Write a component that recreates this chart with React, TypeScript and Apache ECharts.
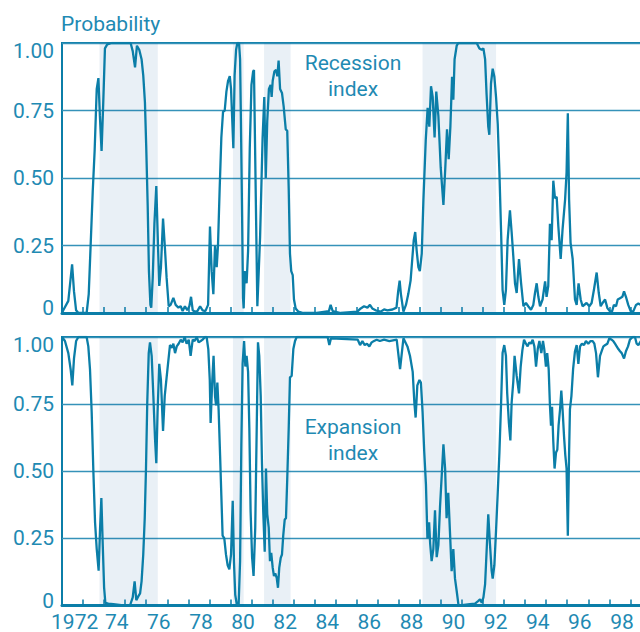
import React, { useEffect, useRef } from "react";
import * as echarts from "echarts";

// ---- Data (decimal year, probability) ----
const recessionIndex: [number, number][] = [
  [1972.0, 0.0], [1972.06, 0.01], [1972.3, 0.045], [1972.48, 0.18], [1972.57, 0.08], [1972.67, 0.01],
  [1972.78, 0.0], [1973.17, 0.0], [1973.27, 0.07], [1973.36, 0.25], [1973.46, 0.45], [1973.55, 0.6],
  [1973.65, 0.83], [1973.73, 0.87], [1973.8, 0.73], [1973.88, 0.6], [1973.96, 0.78], [1974.04, 0.98],
  [1974.15, 0.995], [1974.36, 1.0], [1975.26, 1.0], [1975.36, 0.97], [1975.47, 0.91], [1975.56, 0.99],
  [1975.67, 0.975], [1975.78, 0.94], [1975.86, 0.88], [1975.94, 0.78], [1976.0, 0.62], [1976.07, 0.4],
  [1976.13, 0.155], [1976.2, 0.03], [1976.24, 0.02], [1976.31, 0.13], [1976.39, 0.33], [1976.48, 0.47],
  [1976.56, 0.25], [1976.62, 0.1], [1976.7, 0.17], [1976.8, 0.35], [1976.89, 0.24], [1976.97, 0.13],
  [1977.07, 0.025], [1977.16, 0.03], [1977.29, 0.056], [1977.4, 0.03], [1977.53, 0.02], [1977.64, 0.025],
  [1977.73, 0.007], [1977.84, 0.025], [1977.95, 0.01], [1978.05, 0.025], [1978.13, 0.06], [1978.21, 0.01],
  [1978.32, 0.005], [1978.43, 0.007], [1978.56, 0.025], [1978.68, 0.01], [1978.81, 0.007], [1978.94, 0.03],
  [1979.03, 0.32], [1979.11, 0.155], [1979.19, 0.07], [1979.27, 0.25], [1979.35, 0.17], [1979.41, 0.25],
  [1979.49, 0.46], [1979.57, 0.65], [1979.65, 0.745], [1979.73, 0.75], [1979.81, 0.82], [1979.89, 0.86],
  [1979.97, 0.877], [1980.03, 0.83], [1980.09, 0.71], [1980.14, 0.61], [1980.2, 0.88], [1980.27, 0.975],
  [1980.33, 1.0], [1980.41, 1.0], [1980.46, 0.94], [1980.5, 0.71], [1980.55, 0.4], [1980.6, 0.056],
  [1980.63, 0.017], [1980.68, 0.155], [1980.73, 0.124], [1980.77, 0.11], [1980.84, 0.23], [1980.92, 0.61],
  [1981.0, 0.845], [1981.08, 0.895], [1981.12, 0.9], [1981.28, 0.025], [1981.41, 0.28], [1981.53, 0.65],
  [1981.61, 0.8], [1981.68, 0.5], [1981.75, 0.71], [1981.83, 0.83], [1981.91, 0.845], [1981.96, 0.8],
  [1982.01, 0.86], [1982.09, 0.895], [1982.17, 0.9], [1982.23, 0.877], [1982.29, 0.935], [1982.36, 0.83],
  [1982.45, 0.815], [1982.53, 0.765], [1982.63, 0.68], [1982.7, 0.675], [1982.77, 0.46], [1982.83, 0.22],
  [1982.89, 0.155], [1982.96, 0.14], [1983.02, 0.05], [1983.1, 0.017], [1983.23, 0.005], [1983.46, 0.0],
  [1984.1, 0.0], [1984.68, 0.007], [1984.76, 0.03], [1984.86, 0.007], [1985.24, 0.0], [1986.03, 0.005],
  [1986.19, 0.017], [1986.35, 0.025], [1986.51, 0.02], [1986.63, 0.03], [1986.74, 0.017], [1986.9, 0.01],
  [1987.14, 0.005], [1987.3, 0.013], [1987.46, 0.01], [1987.7, 0.013], [1987.89, 0.02], [1987.97, 0.08],
  [1988.04, 0.12], [1988.1, 0.07], [1988.22, 0.005], [1988.34, 0.03], [1988.45, 0.07], [1988.56, 0.12],
  [1988.64, 0.2], [1988.71, 0.27], [1988.78, 0.3], [1988.85, 0.23], [1988.93, 0.17], [1989.0, 0.155],
  [1989.09, 0.22], [1989.17, 0.42], [1989.28, 0.64], [1989.37, 0.76], [1989.45, 0.69], [1989.53, 0.84],
  [1989.61, 0.8], [1989.7, 0.65], [1989.78, 0.82], [1989.88, 0.73], [1989.99, 0.54], [1990.12, 0.4],
  [1990.21, 0.54], [1990.29, 0.68], [1990.37, 0.57], [1990.45, 0.69], [1990.53, 0.875], [1990.59, 0.79],
  [1990.65, 0.94], [1990.75, 0.99], [1990.83, 1.0], [1991.7, 1.0], [1991.83, 0.98], [1991.94, 0.975],
  [1992.02, 0.98], [1992.1, 0.94], [1992.17, 0.81], [1992.25, 0.69], [1992.3, 0.66], [1992.38, 0.85],
  [1992.46, 0.905], [1992.54, 0.875], [1992.62, 0.8], [1992.7, 0.7], [1992.78, 0.52], [1992.86, 0.3],
  [1992.93, 0.086], [1993.01, 0.03], [1993.09, 0.086], [1993.17, 0.27], [1993.28, 0.38], [1993.36, 0.3],
  [1993.44, 0.21], [1993.52, 0.11], [1993.6, 0.074], [1993.71, 0.2], [1993.81, 0.11], [1993.92, 0.025],
  [1994.04, 0.037], [1994.15, 0.025], [1994.28, 0.012], [1994.39, 0.03], [1994.47, 0.074], [1994.55, 0.11],
  [1994.63, 0.06], [1994.71, 0.025], [1994.83, 0.05], [1994.95, 0.117], [1995.02, 0.06], [1995.1, 0.1],
  [1995.18, 0.33], [1995.26, 0.27], [1995.34, 0.49], [1995.42, 0.425], [1995.5, 0.43], [1995.58, 0.32],
  [1995.69, 0.2], [1995.78, 0.31], [1995.9, 0.42], [1995.97, 0.52], [1996.03, 0.74], [1996.09, 0.42],
  [1996.16, 0.26], [1996.26, 0.2], [1996.37, 0.05], [1996.45, 0.03], [1996.54, 0.11], [1996.64, 0.05],
  [1996.73, 0.025], [1996.92, 0.037], [1997.05, 0.025], [1997.16, 0.037], [1997.27, 0.086], [1997.4, 0.15],
  [1997.5, 0.074], [1997.59, 0.025], [1997.68, 0.037], [1997.8, 0.05], [1997.91, 0.018], [1998.03, 0.006],
  [1998.13, 0.006], [1998.22, 0.03], [1998.32, 0.025], [1998.4, 0.05], [1998.51, 0.055], [1998.62, 0.06],
  [1998.7, 0.08], [1998.79, 0.06], [1998.9, 0.03], [1999.02, 0.006], [1999.14, 0.006], [1999.27, 0.03],
  [1999.38, 0.035], [1999.5, 0.03],
];

const expansionIndex: [number, number][] = [
  [1972.0, 1.0], [1972.14, 0.985], [1972.3, 0.94], [1972.41, 0.88], [1972.49, 0.82], [1972.57, 0.92],
  [1972.67, 0.985], [1972.78, 1.0], [1973.17, 1.0], [1973.25, 0.965], [1973.33, 0.88], [1973.41, 0.72],
  [1973.49, 0.5], [1973.57, 0.31], [1973.65, 0.21], [1973.74, 0.13], [1973.81, 0.29], [1973.87, 0.4],
  [1973.93, 0.24], [1974.0, 0.067], [1974.06, 0.01], [1974.2, 0.007], [1974.44, 0.005], [1974.91, 0.0],
  [1975.23, 0.0], [1975.36, 0.03], [1975.45, 0.09], [1975.53, 0.02], [1975.63, 0.035], [1975.71, 0.045],
  [1975.78, 0.09], [1975.86, 0.19], [1975.93, 0.325], [1975.99, 0.51], [1976.05, 0.755], [1976.12, 0.94],
  [1976.18, 0.98], [1976.26, 0.93], [1976.34, 0.78], [1976.42, 0.62], [1976.48, 0.53], [1976.54, 0.72],
  [1976.62, 0.9], [1976.7, 0.84], [1976.8, 0.65], [1976.88, 0.78], [1976.97, 0.85], [1977.05, 0.91],
  [1977.13, 0.97], [1977.23, 0.96], [1977.29, 0.975], [1977.37, 0.94], [1977.45, 0.965], [1977.54, 0.975],
  [1977.64, 0.99], [1977.73, 0.98], [1977.83, 1.0], [1977.92, 0.975], [1978.02, 0.99], [1978.11, 0.93],
  [1978.21, 0.99], [1978.3, 0.985], [1978.4, 1.0], [1978.49, 0.98], [1978.59, 0.985], [1978.68, 0.99],
  [1978.79, 1.0], [1978.87, 1.0], [1978.95, 0.955], [1979.02, 0.84], [1979.06, 0.68], [1979.14, 0.84],
  [1979.2, 0.93], [1979.27, 0.78], [1979.32, 0.745], [1979.38, 0.83], [1979.44, 0.73], [1979.51, 0.56],
  [1979.57, 0.41], [1979.63, 0.26], [1979.71, 0.25], [1979.79, 0.19], [1979.87, 0.15], [1979.95, 0.135],
  [1980.03, 0.19], [1980.11, 0.39], [1980.17, 0.16], [1980.23, 0.04], [1980.3, 0.005], [1980.39, 0.0],
  [1980.46, 0.165], [1980.52, 0.6], [1980.58, 0.9], [1980.65, 0.985], [1980.71, 0.89], [1980.77, 0.93],
  [1980.84, 0.87], [1980.9, 0.66], [1980.96, 0.35], [1981.03, 0.18], [1981.1, 0.11], [1981.18, 0.29],
  [1981.25, 0.66], [1981.31, 0.98], [1981.37, 0.93], [1981.44, 0.78], [1981.5, 0.53], [1981.56, 0.35],
  [1981.63, 0.2], [1981.69, 0.51], [1981.75, 0.34], [1981.82, 0.29], [1981.88, 0.165], [1981.94, 0.196],
  [1982.01, 0.14], [1982.07, 0.11], [1982.13, 0.12], [1982.2, 0.103], [1982.26, 0.066], [1982.32, 0.14],
  [1982.39, 0.177], [1982.45, 0.19], [1982.51, 0.26], [1982.58, 0.32], [1982.64, 0.325], [1982.7, 0.47],
  [1982.77, 0.66], [1982.83, 0.85], [1982.91, 0.855], [1982.99, 0.955], [1983.07, 0.985], [1983.15, 1.0],
  [1984.62, 1.0], [1984.7, 0.97], [1984.78, 0.995], [1986.05, 0.99], [1986.16, 0.97], [1986.27, 0.985],
  [1986.38, 0.97], [1986.49, 0.975], [1986.6, 0.965], [1986.71, 0.98], [1986.82, 0.985], [1986.95, 0.99],
  [1987.1, 0.985], [1987.3, 0.99], [1987.55, 0.985], [1987.9, 0.99], [1988.06, 0.88], [1988.22, 0.995],
  [1988.41, 0.965], [1988.53, 0.93], [1988.66, 0.87], [1988.74, 0.755], [1988.8, 0.7], [1988.88, 0.82],
  [1988.98, 0.84], [1989.05, 0.83], [1989.13, 0.72], [1989.21, 0.57], [1989.29, 0.45], [1989.36, 0.25],
  [1989.44, 0.31], [1989.49, 0.23], [1989.56, 0.165], [1989.64, 0.21], [1989.72, 0.355], [1989.8, 0.18],
  [1989.88, 0.225], [1989.96, 0.37], [1990.04, 0.485], [1990.12, 0.6], [1990.2, 0.51], [1990.27, 0.325],
  [1990.35, 0.42], [1990.43, 0.275], [1990.51, 0.128], [1990.59, 0.21], [1990.67, 0.1], [1990.75, 0.054],
  [1990.83, 0.005], [1990.91, 0.0], [1991.38, 0.005], [1991.62, 0.007], [1991.78, 0.017], [1991.86, 0.023],
  [1991.94, 0.01], [1992.02, 0.03], [1992.1, 0.08], [1992.17, 0.2], [1992.25, 0.34], [1992.33, 0.23],
  [1992.41, 0.13], [1992.46, 0.1], [1992.54, 0.15], [1992.62, 0.28], [1992.7, 0.42], [1992.78, 0.57],
  [1992.86, 0.755], [1992.93, 0.94], [1993.01, 0.97], [1993.09, 0.93], [1993.15, 0.79], [1993.23, 0.68],
  [1993.3, 0.615], [1993.36, 0.755], [1993.44, 0.835], [1993.5, 0.93], [1993.6, 0.855], [1993.71, 0.79],
  [1993.79, 0.89], [1993.87, 0.95], [1993.95, 0.99], [1994.04, 0.975], [1994.12, 0.965], [1994.2, 0.98],
  [1994.28, 0.975], [1994.36, 0.99], [1994.44, 0.965], [1994.52, 0.89], [1994.6, 0.955], [1994.68, 0.985],
  [1994.77, 0.94], [1994.85, 0.985], [1994.91, 0.955], [1994.99, 0.89], [1995.05, 0.94], [1995.12, 0.88],
  [1995.18, 0.745], [1995.23, 0.67], [1995.28, 0.74], [1995.34, 0.61], [1995.4, 0.51], [1995.47, 0.57],
  [1995.53, 0.58], [1995.59, 0.67], [1995.66, 0.73], [1995.72, 0.8], [1995.78, 0.73], [1995.85, 0.63],
  [1995.91, 0.56], [1995.97, 0.51], [1996.03, 0.26], [1996.09, 0.57], [1996.13, 0.73], [1996.2, 0.78],
  [1996.28, 0.88], [1996.37, 0.947], [1996.45, 0.97], [1996.53, 0.9], [1996.61, 0.965], [1996.7, 0.975],
  [1996.8, 0.97], [1996.89, 0.985], [1997.0, 0.975], [1997.11, 0.985], [1997.21, 0.985], [1997.29, 0.975],
  [1997.37, 0.94], [1997.46, 0.85], [1997.56, 0.93], [1997.65, 0.95], [1997.72, 0.965], [1997.81, 0.97],
  [1997.91, 0.975], [1998.0, 0.995], [1998.11, 0.99], [1998.19, 0.985], [1998.27, 0.975], [1998.35, 0.965],
  [1998.43, 0.955], [1998.51, 0.947], [1998.59, 0.94], [1998.7, 0.92], [1998.79, 0.947], [1998.89, 0.965],
  [1998.98, 0.99], [1999.11, 1.0], [1999.22, 1.0], [1999.3, 0.975], [1999.38, 0.97], [1999.5, 0.985],
];

// shaded periods (decimal years)
const shadedPeriods: [number, number][] = [
  [1973.78, 1976.55],
  [1980.12, 1980.63],
  [1981.6, 1982.86],
  [1989.13, 1992.62],
];

const tickYears: number[] = [];
for (let y = 1973; y <= 1999; y++) tickYears.push(y);
const labelYears: number[] = [1972, 1974, 1976, 1978, 1980, 1982, 1984, 1986, 1988, 1990, 1992, 1994, 1996, 1998];

const LINE = "#0b7ea8";
const TEXT = "#1f8ab3";
const GRIDC = "#3592b9";
const FONT = "Roboto, 'Liberation Sans', Arial, sans-serif";
const FS = 21;
const FW = 400;
const LABEL_OFFSET = 0.6;

export default function App() {
  const ref = useRef<HTMLDivElement>(null);
  useEffect(() => {
    if (!ref.current) return;
    document.documentElement.style.overflow = "hidden";
    document.body.style.overflow = "hidden";
    const chart = echarts.init(ref.current, undefined, { renderer: "svg" });
    const gridTops = [43, 337];
    const markArea = {
      silent: true,
      itemStyle: { color: "rgba(22,92,160,0.095)" },
      data: shadedPeriods.map(([a, b]) => [{ xAxis: a }, { xAxis: b }]),
    };
    const richBase = { fontSize: FS, fontFamily: FONT, fontWeight: FW, color: TEXT };
    const option: any = {
      animation: false,
      grid: gridTops.map((t) => ({
        left: 62,
        top: t,
        width: 589.4,
        height: 270,
        show: true,
        borderColor: LINE,
        borderWidth: 2,
        backgroundColor: "transparent",
      })),
      xAxis: [0, 1].map((i) => ({
        type: "value",
        gridIndex: i,
        min: 1972,
        max: 2000,
        interval: 1,
        axisLine: { show: true, onZero: false, lineStyle: { color: LINE, width: 3 } },
        axisTick: {
          show: true,
          inside: true,
          length: 6,
          customValues: tickYears,
          lineStyle: { color: LINE, width: 1.5 },
        },
        axisLabel:
          i === 1
            ? {
                show: true,
                customValues: labelYears.map((y) => y + LABEL_OFFSET),
                formatter: (v: number) => {
                  const y = Math.round(v - LABEL_OFFSET);
                  return y === 1972 ? "1972" : String(y % 100).padStart(2, "0");
                },
                color: TEXT,
                fontSize: FS,
                fontFamily: FONT,
                fontWeight: FW,
                lineHeight: 16,
                margin: 8,
              }
            : { show: false },
        splitLine: { show: false },
      })),
      yAxis: [0, 1].map((i) => ({
        type: "value",
        gridIndex: i,
        min: 0,
        max: 1,
        interval: 0.25,
        axisLine: { show: false },
        axisTick: { show: false },
        splitLine: { show: true, lineStyle: { color: GRIDC, width: 1.3 } },
        axisLabel: {
          color: TEXT,
          fontSize: FS,
          fontFamily: FONT,
          fontWeight: FW,
          margin: 8,
          formatter: (v: number) =>
            v === 1 ? "{top|1.00}" : v === 0 ? "{bot|0}" : v.toFixed(2),
          rich: {
            top: { ...richBase, padding: [16, 0, 0, 0] },
            bot: { ...richBase, padding: [0, 0, 10, 0] },
          },
        },
      })),
      series: [
        {
          type: "line",
          name: "Recession index",
          xAxisIndex: 0,
          yAxisIndex: 0,
          data: recessionIndex,
          showSymbol: false,
          symbol: "none",
          lineStyle: { color: LINE, width: 2.3 },
          markArea,
        },
        {
          type: "line",
          name: "Expansion index",
          xAxisIndex: 1,
          yAxisIndex: 1,
          data: expansionIndex,
          showSymbol: false,
          symbol: "none",
          lineStyle: { color: LINE, width: 2.3 },
          markArea,
        },
      ],
      graphic: [
        {
          type: "text",
          x: 61,
          y: 24,
          style: {
            text: "Probability",
            fill: TEXT,
            font: `${FW} ${FS}px ${FONT}`,
            align: "left",
            verticalAlign: "middle",
          },
        },
        {
          type: "text",
          x: 353,
          y: 76,
          style: {
            text: "Recession\nindex",
            fill: TEXT,
            font: `${FW} ${FS}px ${FONT}`,
            lineHeight: 26,
            align: "center",
            verticalAlign: "middle",
          },
        },
        {
          type: "text",
          x: 353,
          y: 440,
          style: {
            text: "Expansion\nindex",
            fill: TEXT,
            font: `${FW} ${FS}px ${FONT}`,
            lineHeight: 26,
            align: "center",
            verticalAlign: "middle",
          },
        },
      ],
    };
    chart.setOption(option);
    return () => chart.dispose();
  }, []);
  return (
    <div
      ref={ref}
      style={{ position: "fixed", left: 0, top: 0, width: 660, height: 632, background: "#fff" }}
    />
  );
}
